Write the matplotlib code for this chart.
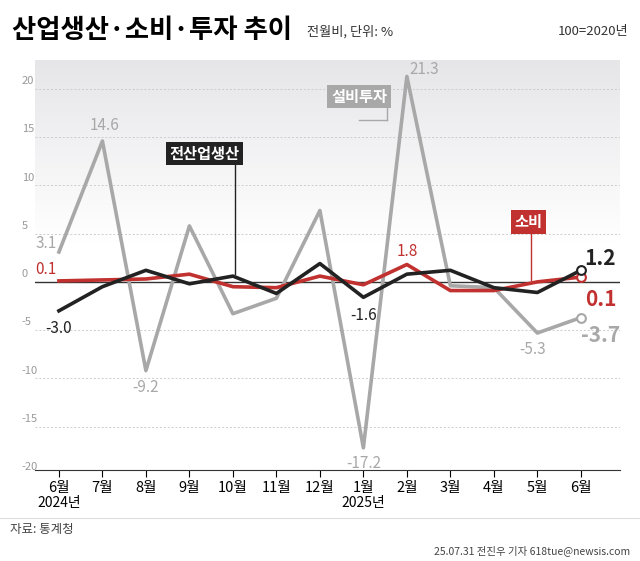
import matplotlib
matplotlib.use("Agg")
import matplotlib.pyplot as plt
import numpy as np

plt.rcParams['font.family'] = ['Noto Sans CJK JP', 'NanumGothic', 'DejaVu Sans']

months = ["6월","7월","8월","9월","10월","11월","12월","1월","2월","3월","4월","5월","6월"]
industry = [-3.0, -0.5, 1.2, -0.2, 0.6, -1.2, 1.9, -1.6, 0.8, 1.2, -0.6, -1.1, 1.2]
consumption = [0.1, 0.2, 0.3, 0.8, -0.5, -0.6, 0.6, -0.3, 1.8, -0.9, -0.9, 0.0, 0.5]
investment = [3.1, 14.6, -9.2, 5.8, -3.3, -1.7, 7.4, -17.2, 21.3, -0.4, -0.6, -5.3, -3.7]
yticks = [-20, -15, -10, -5, 0, 5, 10, 15, 20]

GRAY = "#a8a8a8"; BLACK = "#222222"; RED = "#c0312f"

fig = plt.figure(figsize=(6.4, 5.61), dpi=100)
ax = fig.add_axes([35/640, 1-470/561, 585/640, 410/561])
x = np.arange(len(months))
ax.set_xlim(-0.55, 12.9)
ax.set_ylim(-19.5, 23.0)

grad = np.linspace(0, 1, 100).reshape(-1, 1)
ax.imshow(grad, extent=(-0.55, 12.9, 4.0, 23.0), aspect='auto',
          cmap=matplotlib.colors.LinearSegmentedColormap.from_list("g", ["#ffffff", "#e6e6e9"]),
          origin='lower', zorder=0)

for t in yticks:
    if t != 0:
        ax.axhline(t, color="#cccccc", lw=0.7, ls=(0, (2, 2)), zorder=1)
    ax.text(-0.85, t + 0.8, str(t), fontsize=8, color="#999999", ha='left', va='center', clip_on=False)
ax.axhline(0, color="#333333", lw=1.0, zorder=2)

ax.plot(x, investment, color=GRAY, lw=2.6, zorder=3)
ax.plot(x, consumption, color=RED, lw=2.6, zorder=4)
ax.plot(x, industry, color=BLACK, lw=2.6, zorder=5)
ax.scatter([12], [investment[-1]], s=40, facecolor='white', edgecolor=GRAY, lw=1.5, zorder=6)
ax.scatter([12], [consumption[-1]], s=40, facecolor='white', edgecolor=RED, lw=1.5, zorder=6)
ax.scatter([12], [industry[-1]], s=40, facecolor='white', edgecolor=BLACK, lw=1.5, zorder=7)

ax.set_yticks([])
ax.set_xticks(x)
ax.set_xticklabels(months, fontsize=10.5)
ax.tick_params(axis='x', length=5, direction='out', pad=3)
for s in ["top", "right", "left"]:
    ax.spines[s].set_visible(False)
ax.spines["bottom"].set_color("#333333")
ax.text(0, -22.9, "2024년", ha='center', va='center', fontsize=10, clip_on=False)
ax.text(7, -22.9, "2025년", ha='center', va='center', fontsize=10, clip_on=False)

def lab(xx, yy, s, c, fs=11, **kw):
    ax.text(xx, yy, s, color=c, fontsize=fs, ha='center', va='center', **kw)
lab(-0.3, 4.0, "3.1", GRAY); lab(1.05, 16.2, "14.6", GRAY); lab(2.0, -11.0, "-9.2", GRAY)
lab(7.0, -18.8, "-17.2", GRAY); lab(8.4, 22.0, "21.3", GRAY); lab(10.9, -7.0, "-5.3", GRAY)
lab(-0.3, 1.3, "0.1", RED); lab(8.0, 3.2, "1.8", RED)
lab(0.0, -4.8, "-3.0", BLACK); lab(7.0, -3.5, "-1.6", BLACK)
lab(12.45, 2.4, "1.2", BLACK, fs=15, fontweight='bold')
lab(12.45, -1.8, "0.1", RED, fs=15, fontweight='bold')
lab(12.45, -5.6, "-3.7", GRAY, fs=15, fontweight='bold')

ax.plot([7.55, 7.55], [16.8, 19.0], color=GRAY, lw=1, zorder=2)
ax.plot([7.55, 6.9], [16.8, 16.8], color=GRAY, lw=1, zorder=2)
ax.text(6.9, 19.2, "설비투자", color='white', fontsize=11, fontweight='bold', ha='center', va='center',
        bbox=dict(boxstyle='square,pad=0.25', fc=GRAY, ec='none'), zorder=8)
ax.plot([4.05, 4.05], [13.0, 0.8], color=BLACK, lw=1, zorder=2)
ax.text(3.35, 13.3, "전산업생산", color='white', fontsize=11, fontweight='bold', ha='center', va='center',
        bbox=dict(boxstyle='square,pad=0.25', fc=BLACK, ec='none'), zorder=8)
ax.plot([10.85, 10.85], [6.0, 0.2], color=RED, lw=1, zorder=2)
ax.text(10.8, 6.2, "소비", color='white', fontsize=11, fontweight='bold', ha='center', va='center',
        bbox=dict(boxstyle='square,pad=0.25', fc=RED, ec='none'), zorder=8)

fig.text(12/640, 1-30/561, "산업생산·소비·투자 추이", fontsize=19, fontweight='bold', va='center')
fig.text(307/640, 1-32/561, "전월비, 단위: %", fontsize=9.5, va='center', color="#333333")
fig.text(628/640, 1-32/561, "100=2020년", fontsize=9.5, va='center', ha='right', color="#333333")
fig.text(10/640, 1-530/561, "자료: 통계청", fontsize=9, va='center', color="#444444")
fig.text(630/640, 1-551/561, "25.07.31 전진우 기자 618tue@newsis.com", fontsize=7.5, va='center', ha='right', color="#444444")
fig.add_artist(plt.Line2D([0, 1], [1-518/561]*2, color="#dddddd", lw=0.8))

fig.savefig("out.png", dpi=100)
